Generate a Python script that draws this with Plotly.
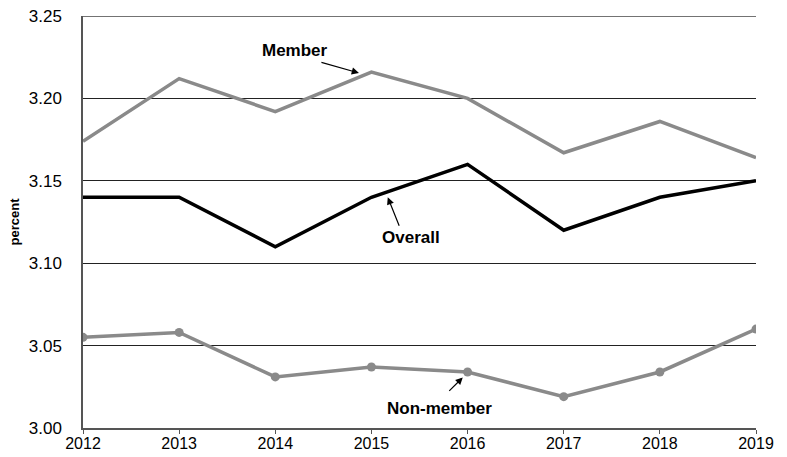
import plotly.graph_objects as go

years = [2012, 2013, 2014, 2015, 2016, 2017, 2018, 2019]
member = [3.174, 3.212, 3.192, 3.216, 3.200, 3.167, 3.186, 3.164]
overall = [3.14, 3.14, 3.11, 3.14, 3.16, 3.12, 3.14, 3.15]
non_member = [3.055, 3.058, 3.031, 3.037, 3.034, 3.019, 3.034, 3.060]
y_ticks = [3.00, 3.05, 3.10, 3.15, 3.20, 3.25]

FONT = "Liberation Sans, Arial, sans-serif"
GRAY = "#8a8a8a"

fig = go.Figure()
fig.add_trace(go.Scatter(x=years, y=member, mode="lines",
                         line=dict(color=GRAY, width=3.5), name="Member"))
fig.add_trace(go.Scatter(x=years, y=overall, mode="lines",
                         line=dict(color="#000000", width=3.5), name="Overall"))
fig.add_trace(go.Scatter(x=years, y=non_member, mode="lines+markers",
                         line=dict(color=GRAY, width=3.5),
                         marker=dict(color=GRAY, size=9), name="Non-member"))

# labels with arrows
labels = [
    dict(text="Member", tx=2014.20, ty=3.2293, hx=2014.87, hy=3.2154, ax=-39, ay=-11),
    dict(text="Overall", tx=2015.41, ty=3.1157, hx=2015.17, hy=3.1400, ax=12, ay=30),
    dict(text="Non-member", tx=2015.71, ty=3.0118, hx=2015.95, hy=3.0307, ax=-15, ay=15),
]
for lb in labels:
    fig.add_annotation(x=lb["tx"], y=lb["ty"], text="<b>%s</b>" % lb["text"],
                       showarrow=False, font=dict(family=FONT, size=17, color="#000"))
    fig.add_annotation(x=lb["hx"], y=lb["hy"], text="", showarrow=True,
                       ax=lb["ax"], ay=lb["ay"], arrowhead=2, arrowsize=1.2,
                       arrowwidth=1.2, arrowcolor="#000")

fig.update_layout(
    width=787, height=457,
    margin=dict(l=83, r=31, t=16, b=29),
    paper_bgcolor="white", plot_bgcolor="white",
    showlegend=False,
    font=dict(family=FONT, size=17, color="#000"),
    xaxis=dict(range=[2012, 2019], tickvals=years, ticktext=[str(y) for y in years],
               automargin=False,
               showgrid=False, zeroline=False, showline=True, linecolor="#555",
               linewidth=1.5, ticks="outside", ticklen=4, tickcolor="#555",
               ticklabelstandoff=-4,
               tickfont=dict(family=FONT, size=16, color="#000")),
    yaxis=dict(range=[3.00, 3.25], tickvals=y_ticks,
               ticktext=["%.2f" % v for v in y_ticks],
               automargin=False,
               showgrid=True, gridcolor="#222", gridwidth=1, zeroline=False,
               showline=True, linecolor="#555", linewidth=1.5, ticks="",
               ticklabelstandoff=16,
               tickfont=dict(family=FONT, size=17, color="#000"),
               title=dict(text="<b>percent</b>", standoff=6,
                          font=dict(family=FONT, size=13, color="#000"))),
)
fig.add_shape(type="line", xref="paper", yref="y", x0=0, x1=1, y0=3.25, y1=3.25,
              line=dict(color="#444", width=1.5))

fig.write_html("out.html")
